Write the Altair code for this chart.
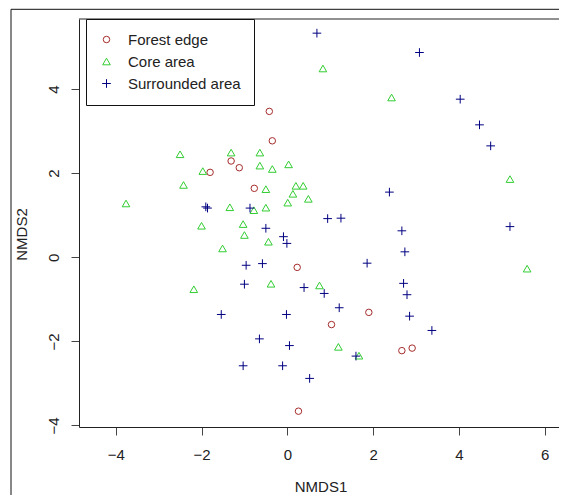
import altair as alt
import pandas as pd

groups = ["Forest edge", "Core area", "Surrounded area"]
colors = ["#a52a2a", "#32cd32", "#000080"]
shapes = ["circle", "triangle-up", "M-1,0H1M0,-1V1"]
sizes = [42, 75, 100]

edge_x = [-0.42, -0.35, -1.31, -1.12, -1.80, -0.77, 0.23, 1.90, 1.03, 2.67, 2.91, 0.26]
edge_y = [3.47, 2.77, 2.29, 2.13, 2.02, 1.64, -0.24, -1.31, -1.60, -2.22, -2.16, -3.66]

core_x = [-2.50, -1.31, -0.64, -1.97, -0.64, -0.35, 0.03, -2.42, -0.50, 0.20, 0.37,
          0.13, 0.49, 0.01, -3.76, -1.34, -0.78, -0.50, -2.00, -1.03, -1.00, -0.44,
          -1.51, -2.18, -0.38, 0.75, 1.19, 1.67, 5.59, 0.83, 2.43, 5.19]
core_y = [2.45, 2.49, 2.49, 2.05, 2.18, 2.10, 2.21, 1.72, 1.62, 1.70, 1.70,
          1.51, 1.39, 1.30, 1.28, 1.19, 1.12, 1.18, 0.75, 0.79, 0.53, 0.37,
          0.21, -0.76, -0.63, -0.67, -2.13, -2.34, -0.27, 4.49, 3.80, 1.86]

surr_x = [-1.90, -1.86, -0.87, -0.50, -0.09, -0.01, 0.94, 1.25, -0.96, -0.58, -1.00,
          0.39, 0.86, 1.21, -1.54, -0.02, -0.65, 0.05, 1.60, -1.03, -0.11, 0.52,
          2.67, 2.74, 1.86, 2.71, 2.79, 2.85, 3.37, 0.69, 3.08, 4.03, 4.48, 4.74,
          2.38, 5.19]
surr_y = [1.20, 1.17, 1.17, 0.69, 0.49, 0.33, 0.92, 0.93, -0.19, -0.15, -0.64,
          -0.72, -0.86, -1.20, -1.36, -1.36, -1.94, -2.10, -2.35, -2.58, -2.58, -2.88,
          0.63, 0.13, -0.14, -0.62, -0.89, -1.40, -1.74, 5.33, 4.87, 3.76, 3.15, 2.65,
          1.55, 0.73]

x_ticks = [-4, -2, 0, 2, 4, 6]
y_ticks = [-4, -2, 0, 2, 4]
x_domain = [-4.856, 6.333]
y_domain = [-4.036, 5.667]

rows = []
for g, xs, ys in [(groups[0], edge_x, edge_y), (groups[1], core_x, core_y), (groups[2], surr_x, surr_y)]:
    for a, b in zip(xs, ys):
        rows.append({"NMDS1": a, "NMDS2": b, "group": g})
df = pd.DataFrame(rows)

W, H = 480, 408
FONT = "Liberation Sans"
TXT = "#222222"

leg = alt.Legend(title=None, orient="none", legendX=7, legendY=0)

points = alt.Chart(df).mark_point(filled=False, strokeWidth=1, opacity=1).encode(
    x=alt.X("NMDS1:Q", scale=alt.Scale(domain=x_domain, nice=False, zero=False),
            axis=alt.Axis(values=x_ticks, title="NMDS1", titleX=241.5, titleY=64,
                          titleBaseline="alphabetic", titleAlign="center",
                          labelPadding=12)),
    y=alt.Y("NMDS2:Q", scale=alt.Scale(domain=y_domain, nice=False, zero=False),
            axis=alt.Axis(values=y_ticks, title="NMDS2", titleX=-52.5, titleY=215,
                          titleAngle=270, titleBaseline="alphabetic", titleAlign="center",
                          labelAngle=270, labelAlign="center", labelBaseline="alphabetic",
                          labelPadding=13)),
    color=alt.Color("group:N", scale=alt.Scale(domain=groups, range=colors), legend=leg),
    shape=alt.Shape("group:N", scale=alt.Scale(domain=groups, range=shapes), legend=leg),
    size=alt.Size("group:N", scale=alt.Scale(domain=groups, range=sizes), legend=leg),
)

one = alt.Data(values=[{}])
top_line = alt.Chart(one).mark_rule(color="#222222", strokeWidth=1).encode(
    x=alt.value(0), x2=alt.value(W + 20), y=alt.value(0))
frame_top = alt.Chart(one).mark_rule(color="#111111", strokeWidth=1).encode(
    x=alt.value(-68), x2=alt.value(W + 20), y=alt.value(-9.7))
frame_left = alt.Chart(one).mark_rule(color="#111111", strokeWidth=1).encode(
    x=alt.value(-68), y=alt.value(-9.7), y2=alt.value(H + 80))

chart = alt.layer(points, top_line, frame_top, frame_left).properties(
    width=W, height=H,
    autosize=alt.AutoSizeParams(type="none"),
    padding={"left": 71, "top": 11, "right": 0, "bottom": 68},
).configure_view(stroke=None).configure_axis(
    grid=False, domain=True, domainColor="#222222", domainWidth=1,
    tickSize=8, tickColor="#444444", tickWidth=1,
    labelFont=FONT, labelFontSize=15, labelColor=TXT,
    titleFont=FONT, titleFontSize=15, titleColor=TXT, titleFontWeight="normal",
).configure_legend(
    strokeColor="#111111", fillColor="white", padding=13, rowPadding=6,
    labelFont=FONT, labelFontSize=15, labelColor=TXT, labelOffset=14,
    symbolStrokeWidth=1, cornerRadius=0,
)

chart.save("out.html", embed_options={"renderer": "svg", "actions": False})
